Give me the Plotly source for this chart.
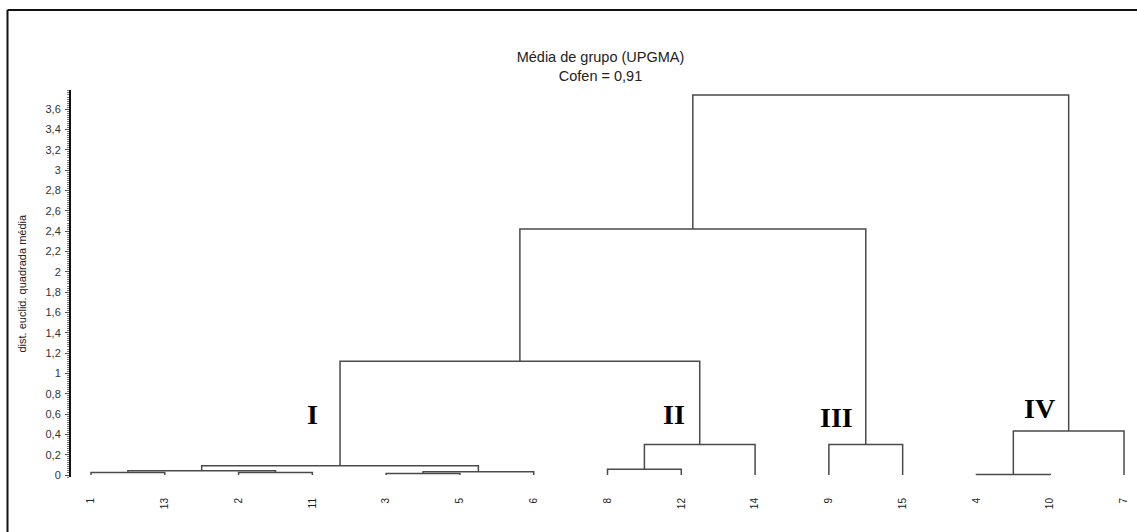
import plotly.graph_objects as go

# Leaf order along the x axis (left to right)
leaf_labels = ["1", "13", "2", "11", "3", "5", "6", "8", "12", "14", "9", "15", "4", "10", "7"]

# UPGMA merge steps: two children (leaf label or earlier cluster "cN") and the fusion height
merge_a = ["1", "2", "c0", "3", "c3", "c2", "8", "c6", "9", "4", "c9", "c5", "c11", "c12"]
merge_b = ["13", "11", "c1", "5", "6", "c4", "12", "14", "15", "10", "7", "c7", "c8", "c10"]
merge_height = [0.025, 0.025, 0.042, 0.015, 0.032, 0.09, 0.056, 0.30, 0.30, 0.004, 0.433, 1.12, 2.42, 3.74]

# Group names and where they sit on the chart (leaf index, height)
group_names = ["I", "II", "III", "IV"]
group_x = [3.0, 7.9, 10.1, 12.85]
group_y = [0.60, 0.60, 0.57, 0.65]

y_ticks = [round(0.2 * i, 1) for i in range(19)]

# Build the dendrogram elbows from the merge table
pos = {lab: (float(i), 0.0) for i, lab in enumerate(leaf_labels)}
xs, ys = [], []
for k, (a, b, h) in enumerate(zip(merge_a, merge_b, merge_height)):
    xa, ha = pos[a]
    xb, hb = pos[b]
    xs += [xa, xa, xb, xb, None]
    ys += [ha, h, h, hb, None]
    pos[f"c{k}"] = ((xa + xb) / 2.0, h)

fig = go.Figure()
fig.add_trace(go.Scatter(
    x=xs, y=ys, mode="lines",
    line=dict(color="#4a4a4a", width=1.5),
    hoverinfo="skip", showlegend=False,
))

for name, gx, gy in zip(group_names, group_x, group_y):
    fig.add_annotation(
        x=gx, y=gy, xref="x", yref="y", text=f"<b>{name}</b>", showarrow=False,
        font=dict(family="Liberation Serif", size=28, color="#000000"),
    )

W, H = 1137, 532
L, R, T, B = 71, 7, 90, 55
pw, ph = W - L - R, H - T - B


def px(xp):
    return (xp - L) / pw


def py(yp):
    return (H - B - yp) / ph


# outer frame (top and left edges)
fig.add_shape(type="line", xref="paper", yref="paper",
              x0=px(7.5), y0=py(10), x1=px(W + 2), y1=py(10),
              line=dict(color="#111111", width=2))
fig.add_shape(type="line", xref="paper", yref="paper",
              x0=px(7.5), y0=py(10), x1=px(7.5), y1=py(H + 2),
              line=dict(color="#111111", width=2))

# vertical axis title
fig.add_annotation(
    x=px(21), y=0.5, xref="paper", yref="paper", textangle=-90,
    text="dist. euclid. quadrada média", showarrow=False,
    xanchor="center", yanchor="middle",
    font=dict(family="Liberation Sans", size=11, color="#222222"),
)

fig.update_layout(
    width=W, height=H,
    margin=dict(l=L, r=R, t=T, b=B, autoexpand=False),
    paper_bgcolor="white", plot_bgcolor="white",
    separators=",.",
    title=dict(
        text="Média de grupo (UPGMA)<br>Cofen = 0,91",
        x=0.5, xref="paper", xanchor="center",
        y=1 - 62 / H, yref="container", yanchor="top",
        font=dict(family="Liberation Sans", size=14.5, color="#222222"),
    ),
    xaxis=dict(
        range=[-0.271, 14.081],
        tickmode="array",
        tickvals=list(range(len(leaf_labels))),
        ticktext=leaf_labels,
        tickangle=-90,
        ticks="",
        ticklabelstandoff=18,
        tickfont=dict(family="Liberation Sans", size=10, color="#222222"),
        showline=False, showgrid=False, zeroline=False,
    ),
    yaxis=dict(
        range=[-0.0197, 3.789],
        tickmode="array",
        tickvals=y_ticks,
        ticks="outside", ticklen=4, tickwidth=1, tickcolor="#555555",
        ticklabelstandoff=2,
        tickfont=dict(family="Liberation Sans", size=11, color="#333333"),
        showline=True, linecolor="#111111", linewidth=2,
        minor=dict(dtick=0.02, tick0=0, ticks="outside", ticklen=2,
                   tickcolor="#777777", tickwidth=1),
        showgrid=False, zeroline=False,
    ),
)

fig.write_html("out.html")
